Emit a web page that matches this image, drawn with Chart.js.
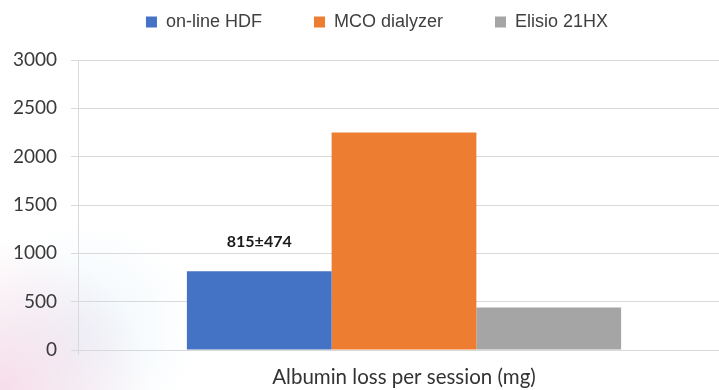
<!DOCTYPE html>
<html>
<head>
<meta charset="utf-8">
<title>Albumin loss per session</title>
<script src="https://cdn.jsdelivr.net/npm/chart.js@4.4.1/dist/chart.umd.min.js"></script>
<style>
  html, body { margin: 0; padding: 0; overflow: hidden; }
  body {
    width: 719px;
    height: 390px;
    background:
      radial-gradient(circle at 0% 100%, rgba(240, 190, 212, 0.5) 0, rgba(240, 190, 212, 0) 150px),
      radial-gradient(circle at 12% 85%, rgba(200, 226, 242, 0.3) 0, rgba(200, 226, 242, 0) 110px),
      #fff;
  }
  /* plot runs a little past the right edge in the original */
  #wrap { position: relative; width: 730px; height: 390px; }
</style>
</head>
<body>
<div id="wrap"><canvas id="albumin-chart"></canvas></div>
<script>
// data
const categories = ['Albumin loss per session (mg)'];
const seriesNames = ['on-line HDF', 'MCO dialyzer', 'Elisio 21HX'];
const hdfValues = [815];
const mcoValues = [2250];
const elisioValues = [440];
const barNotes = ['815±474', '', ''];   // text above each series' bar
const yTicks = [0, 500, 1000, 1500, 2000, 2500, 3000];

const colors = ['#4472C4', '#ED7D31', '#A5A5A5'];
const gridColor = '#d9d9d9';

// writes the note above a bar
const barNotePlugin = {
    id: 'barNote',
    afterDatasetsDraw(chart) {
        const ctx = chart.ctx;
        ctx.save();
        ctx.font = 'bold 16px Lato';
        ctx.fillStyle = '#1a1a1a';
        ctx.textAlign = 'center';
        ctx.textBaseline = 'middle';
        barNotes.forEach((note, i) => {
            if (!note) return;
            const bar = chart.getDatasetMeta(i).data[0];
            ctx.fillText(note, bar.x, bar.y - 29);
        });
        ctx.restore();
    }
};

// legend items sit higher and a bit right of where Chart.js centres them
// (only the top moves, the bottom stays so the legend clip keeps the text)
const legendNudge = {
    id: 'legendNudge',
    afterLayout(chart) {
        const lg = chart.legend;
        lg.top -= 39;
        lg.left += 12;
        lg.right += 12;
    }
};

const ctx = document.getElementById('albumin-chart').getContext('2d');
new Chart(ctx, {
    type: 'bar',
    data: {
        labels: categories,
        datasets: [
            { label: seriesNames[0], data: hdfValues, backgroundColor: colors[0] },
            { label: seriesNames[1], data: mcoValues, backgroundColor: colors[1] },
            { label: seriesNames[2], data: elisioValues, backgroundColor: colors[2] }
        ]
    },
    options: {
        responsive: true,
        maintainAspectRatio: false,
        animation: false,
        datasets: {
            bar: {
                categoryPercentage: 0.666,
                barPercentage: 1.0,
                borderWidth: 0
            }
        },
        plugins: {
            legend: {
                position: 'top',
                maxHeight: 60,
                labels: {
                    boxWidth: 11,
                    boxHeight: 11,
                    padding: 52,
                    color: '#404040',
                    font: { family: 'Liberation Sans', size: 18 }
                }
            },
            tooltip: { enabled: false }
        },
        scales: {
            x: {
                grid: {
                    display: true,
                    drawOnChartArea: false,
                    drawTicks: true,
                    tickLength: 5,
                    color: gridColor
                },
                border: { display: true, color: gridColor },
                ticks: {
                    padding: 10,
                    color: '#333333',
                    font: { family: 'Lato', size: 20.5 }
                },
                afterFit(scale) {
                    scale.height = 40;
                }
            },
            y: {
                min: yTicks[0],
                max: yTicks[yTicks.length - 1],
                grid: {
                    color: gridColor,
                    tickLength: 7
                },
                border: { display: true, color: gridColor },
                ticks: {
                    stepSize: yTicks[1] - yTicks[0],
                    padding: 14,
                    color: '#3a3a3a',
                    font: { family: 'Lato', size: 19 },
                    callback: value => String(value)
                },
                afterFit(scale) {
                    scale.width = 78;
                }
            }
        }
    },
    plugins: [barNotePlugin, legendNudge]
});
</script>
</body>
</html>
